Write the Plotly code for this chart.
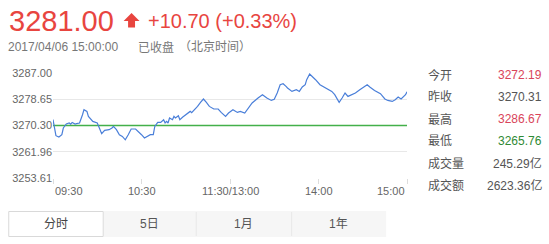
import plotly.graph_objects as go

# ---------------- data ----------------
minutes = [0, 2, 4, 6, 7, 9, 11, 12, 13, 15, 16, 18, 20, 21, 23, 24, 27, 30, 31, 33,
           35, 38, 40, 41, 43, 45, 47, 49, 51, 53, 56, 58, 60, 62, 64, 66, 68, 69, 71, 73,
           75, 76, 77, 78, 79, 81, 82, 83, 85, 86, 88, 90, 93, 94, 96, 98, 100, 102, 104, 106,
           109, 112, 114, 117, 119, 122, 125, 127, 130, 132, 135, 139, 142, 145, 148, 150, 152, 154, 156, 158,
           159, 162, 165, 167, 169, 171, 172, 174, 176, 178, 181, 184, 186, 189, 191, 194, 196, 198, 200, 203,
           205, 208, 212, 213, 215, 218, 222, 225, 227, 230, 232, 234, 236, 239, 240]
prices = [3272.19, 3267.06, 3266.65, 3267.38, 3269.51, 3270.78, 3271.10, 3270.72, 3271.29, 3270.78,
          3270.88, 3271.10, 3273.74, 3275.33, 3274.79, 3273.20, 3271.61, 3271.10, 3270.02, 3267.70,
          3268.75, 3268.97, 3269.51, 3270.02, 3268.97, 3267.38, 3266.84, 3265.76, 3267.38, 3269.19,
          3269.19, 3268.43, 3267.38, 3266.33, 3266.84, 3267.38, 3267.38, 3270.02, 3271.29, 3271.29,
          3272.15, 3271.10, 3271.61, 3271.10, 3272.69, 3272.15, 3273.20, 3272.69, 3273.42, 3272.15,
          3273.01, 3273.74, 3274.79, 3274.37, 3275.33, 3276.38, 3277.65, 3278.73, 3277.65, 3276.38,
          3275.55, 3275.55, 3274.47, 3273.20, 3274.28, 3275.33, 3274.47, 3274.79, 3274.28, 3275.55,
          3277.46, 3279.05, 3280.10, 3279.05, 3278.28, 3278.67, 3280.64, 3283.28, 3283.59, 3282.74,
          3282.23, 3281.15, 3281.69, 3281.15, 3282.54, 3283.28, 3284.87, 3286.67, 3285.92, 3284.87,
          3283.28, 3282.54, 3281.91, 3281.15, 3280.10, 3277.65, 3279.05, 3280.64, 3279.56, 3280.10,
          3280.64, 3281.69, 3282.96, 3283.28, 3282.48, 3281.46, 3280.41, 3278.73, 3278.28, 3277.97,
          3278.51, 3279.37, 3278.73, 3280.10, 3281.00]
assert len(minutes) == len(prices)

prev_close = 3270.31
y_ticks = [3253.61, 3261.96, 3270.30, 3278.65, 3287.00]
x_tick_pos = [0, 60, 120, 180, 240]
x_tick_labels = ["09:30", "10:30", "11:30/13:00", "14:00", "15:00"]

last_price = "3281.00"
change_text = "+10.70 (+0.33%)"
date_text = "2017/04/06 15:00:00"
status_text = "已收盘"
tz_text = "（北京时间）"

stat_labels = ["今开", "昨收", "最高", "最低", "成交量", "成交额"]
stat_values = ["3272.19", "3270.31", "3286.67", "3265.76", "245.29亿", "2623.36亿"]
stat_colors = ["#d9455a", "#555555", "#d9455a", "#2f8a34", "#555555", "#555555"]

tabs = ["分时", "5日", "1月", "1年"]

# ---------------- layout helpers (pixel -> paper) ----------------
W, H = 549, 244
L, R, T, B = 51, 407, 73, 178


def PX(px):
    return (px - L) / (R - L)


def PY(py):
    return (B - py) / (B - T)


RED = "#e8453f"
FONT = "Liberation Sans, Arial, Noto Sans CJK SC, sans-serif"

fig = go.Figure()

fig.add_trace(go.Scatter(x=[minutes[0], minutes[-1]], y=[prev_close, prev_close], mode="lines",
                         line=dict(color="#43b04a", width=1.6), hoverinfo="skip", showlegend=False))
fig.add_trace(go.Scatter(x=minutes, y=prices, mode="lines",
                         line=dict(color="#4a7fd9", width=1.2), showlegend=False))

annotations = []


def ann(text, px, py, size, color, xanchor="left"):
    annotations.append(dict(text=text, x=PX(px), y=PY(py), xref="paper", yref="paper",
                            xanchor=xanchor, yanchor="middle", showarrow=False,
                            font=dict(size=size, color=color, family=FONT)))


# header
ann(last_price, 5, 21, 29, RED)
ann(change_text, 145, 21, 20, RED)
ann(date_text, 4, 47, 12, "#777777")
ann(status_text, 134, 47, 12, "#777777")
ann(tz_text, 176, 47, 12, "#777777")

# stats panel
row_y = [75, 97, 119, 141, 163, 185]
for lab, val, col, yy in zip(stat_labels, stat_values, stat_colors, row_y):
    ann(lab, 426, yy, 12, "#555555")
    ann(val, 545, yy, 12, col, xanchor="right")

# x tick labels
anchors = ["left", "center", "center", "center", "right"]
for pos, lab, a in zip(x_tick_pos, x_tick_labels, anchors):
    annotations.append(dict(text=lab, x=pos, y=PY(191), xref="x", yref="paper",
                            xanchor=a, yanchor="middle", showarrow=False,
                            font=dict(size=11, color="#666666", family=FONT)))

shapes = []
# up arrow icon
arrow_pts = [(122, 21), (130, 13), (138, 21), (133.5, 21), (133.5, 27.5), (126.5, 27.5), (126.5, 21)]
path = "M " + " L ".join(f"{PX(a):.5f},{PY(b):.5f}" for a, b in arrow_pts) + " Z"
shapes.append(dict(type="path", xref="paper", yref="paper", path=path,
                   fillcolor=RED, line=dict(width=0)))

# tabs
tab_edges = [6, 102, 195, 291, 386]
shapes.append(dict(type="rect", xref="paper", yref="paper", x0=PX(102), x1=PX(386),
                   y0=PY(237), y1=PY(211), fillcolor="#f6f6f6", line=dict(width=0), layer="below"))
for e in tab_edges[2:4]:
    shapes.append(dict(type="line", xref="paper", yref="paper", x0=PX(e), x1=PX(e),
                       y0=PY(236), y1=PY(212), line=dict(color="#e8e8e8", width=1)))
shapes.append(dict(type="rect", xref="paper", yref="paper", x0=PX(6.5), x1=PX(101.5),
                   y0=PY(236.5), y1=PY(211.5), fillcolor="#ffffff", line=dict(color="#d9d9d9", width=1)))
for i, t in enumerate(tabs):
    cx = (tab_edges[i] + tab_edges[i + 1]) / 2
    ann(t, cx, 224, 12, "#444444" if i == 0 else "#555555", xanchor="center")

fig.update_layout(
    width=W, height=H,
    margin=dict(l=L, r=W - R, t=T, b=H - B),
    paper_bgcolor="white", plot_bgcolor="white",
    annotations=annotations, shapes=shapes,
    xaxis=dict(range=[0, 240], tickvals=x_tick_pos, showticklabels=False, ticks="outside",
               ticklen=5, tickcolor="#dddddd", showgrid=False, zeroline=False, showline=False,
               fixedrange=True),
    yaxis=dict(range=[y_ticks[0], y_ticks[-1]], tickvals=y_ticks,
               ticktext=[f"{v:.2f}" for v in y_ticks], showgrid=True, gridcolor="#e8e8e8",
               gridwidth=1, zeroline=False, showline=False,
               tickfont=dict(size=11, color="#666666", family=FONT), fixedrange=True),
    font=dict(family=FONT),
    hovermode=False,
)

fig.write_html("out.html", config={"displayModeBar": False})
